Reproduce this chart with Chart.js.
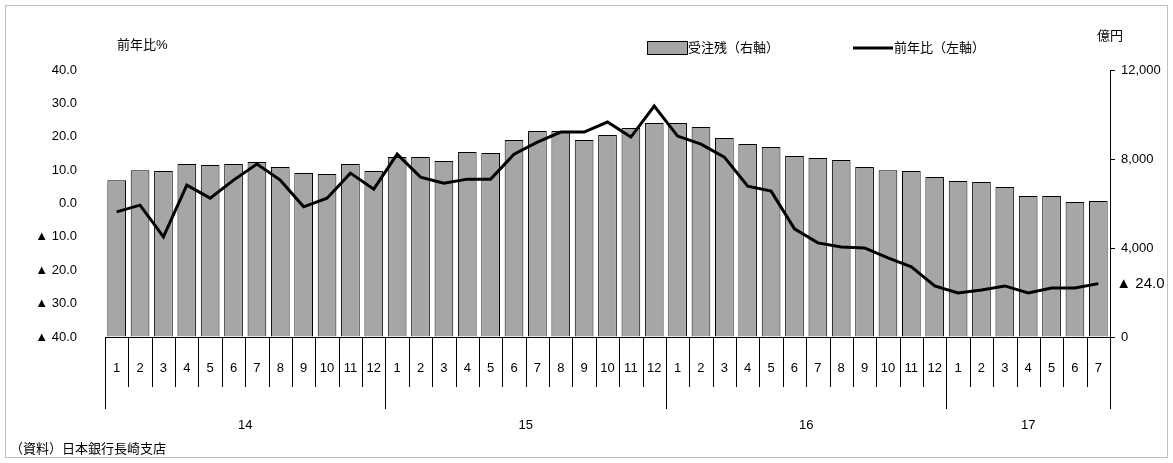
<!DOCTYPE html>
<html>
<head>
<meta charset="utf-8">
<script src="https://cdn.jsdelivr.net/npm/chart.js@4"></script>
<style>
  html, body { margin: 0; padding: 0; background: #fff; }
  #wrap { width: 1173px; height: 463px; position: relative; }
</style>
</head>
<body>
<div id="wrap"><canvas id="c" width="1173" height="463"></canvas></div>
<script>
// ===== DATA =====
const years = ["14", "15", "16", "17"];
const monthsPerYear = [12, 12, 12, 7];
const months = [];
monthsPerYear.forEach(n => { for (let m = 1; m <= n; m++) months.push(String(m)); });

// 受注残 (億円, right axis)
const backlog = [
    7050, 7500, 7460, 7780, 7730, 7780, 7870, 7640, 7370, 7330, 7780, 7460,
    8090, 8090, 7910, 8310, 8270, 8850, 9260, 9260, 8850, 9080, 9390, 9620,
    9620, 9440, 8940, 8670, 8540, 8130, 8040, 7960, 7640, 7500, 7460, 7190,
    7010, 6970, 6740, 6340, 6340, 6070, 6110
];
// 前年比 (%, left axis)
const yoy = [
    -2.5, -0.5, -10.0, 5.5, 1.6, 7.0, 11.8, 7.0, -1.0, 1.6, 9.1, 4.3,
    14.8, 7.9, 6.1, 7.3, 7.3, 14.8, 18.4, 21.4, 21.4, 24.4, 19.9, 29.2,
    20.2, 17.8, 13.9, 5.2, 3.7, -7.6, -11.8, -13.0, -13.3, -16.3, -19.0, -24.7,
    -26.8, -25.9, -24.7, -26.8, -25.3, -25.3, -24.0
];

const FONT = "'Liberation Sans', 'Noto Sans CJK JP', sans-serif";
const fmtPct = v => v < 0 ? "▲ " + Math.abs(v).toFixed(1) : v.toFixed(1);

// ===== 追加描画（枠・凡例・年ラベル・注記） =====
const decor = {
    id: "decor",
    beforeDraw(chart) {
        const c = chart.ctx;
        c.save();
        c.fillStyle = "#fff";
        c.fillRect(0, 0, chart.width, chart.height);
        c.strokeStyle = "#bfbfbf";
        c.lineWidth = 1;
        c.strokeRect(5.5, 5.5, chart.width - 11, chart.height - 11);
        c.restore();
    },
    afterDraw(chart) {
        const c = chart.ctx;
        const x = chart.scales.x;
        const area = chart.chartArea;
        const step = x.getPixelForValue(1) - x.getPixelForValue(0);
        c.save();
        c.strokeStyle = "#000";
        c.lineWidth = 1;
        // 月の区切り線
        let idx = 0;
        const bounds = [0];
        monthsPerYear.forEach(n => { idx += n; bounds.push(idx); });
        for (let i = 0; i <= months.length; i++) {
            const px = Math.round(x.getPixelForValue(i) - step / 2) + 0.5;
            const long = bounds.includes(i);
            c.beginPath();
            c.moveTo(px, area.bottom);
            c.lineTo(px, area.bottom + (long ? 72 : 50));
            c.stroke();
        }
        // 年ラベル
        c.fillStyle = "#000";
        c.font = "13px " + FONT;
        c.textAlign = "center";
        c.textBaseline = "middle";
        years.forEach((y, i) => {
            const a = x.getPixelForValue(bounds[i]) - step / 2;
            const b = x.getPixelForValue(bounds[i + 1]) - step / 2;
            c.fillText(y, (a + b) / 2, area.bottom + 88);
        });
        // 軸タイトル
        c.textAlign = "left";
        c.fillText("前年比%", 117, 45);
        c.fillText("億円", 1097, 36);
        // 凡例
        c.fillStyle = "#a6a6a6";
        c.fillRect(647.5, 41.5, 40, 13);
        c.strokeRect(647.5, 41.5, 40, 13);
        c.fillStyle = "#000";
        c.fillText("受注残（右軸）", 688, 48);
        c.lineWidth = 3;
        c.beginPath();
        c.moveTo(853, 48);
        c.lineTo(893, 48);
        c.stroke();
        c.fillText("前年比（左軸）", 894, 48);
        // 最終値ラベル
        const yl = chart.scales.y;
        const last = yoy.length - 1;
        c.font = "15px " + FONT;
        c.fillText(fmtPct(yoy[last]), x.getPixelForValue(last) + 18, yl.getPixelForValue(yoy[last]));
        // 出所
        c.font = "13px " + FONT;
        c.fillText("（資料）日本銀行長崎支店", 10, 449);
        c.restore();
    }
};

new Chart(document.getElementById("c"), {
    data: {
        labels: months,
        datasets: [
            {
                type: "line",
                label: "前年比(左軸)",
                data: yoy,
                yAxisID: "y",
                borderColor: "#000",
                borderWidth: 3,
                pointRadius: 0,
                tension: 0,
                order: 0
            },
            {
                type: "bar",
                label: "受注残(右軸)",
                data: backlog,
                yAxisID: "y2",
                backgroundColor: "#a6a6a6",
                borderColor: "#000",
                borderWidth: 1,
                categoryPercentage: 1,
                barPercentage: 0.8,
                order: 1
            }
        ]
    },
    options: {
        responsive: false,
        animation: false,
        layout: { padding: { top: 70, left: 0, right: 0, bottom: 0 } },
        plugins: { legend: { display: false }, tooltip: { enabled: false } },
        scales: {
            x: {
                grid: { display: false },
                border: { display: true, color: "#000" },
                ticks: { color: "#000", font: { size: 13, family: FONT }, padding: 16, maxRotation: 0, autoSkip: false },
                afterFit: s => { s.height = 126; }
            },
            y: {
                position: "left",
                min: -40, max: 40,
                grid: { display: false },
                border: { display: false },
                ticks: { stepSize: 10, color: "#000", font: { size: 13, family: FONT }, padding: 20, callback: v => fmtPct(v) },
                afterFit: s => { s.width = 105; }
            },
            y2: {
                position: "right",
                min: 0, max: 12000,
                grid: { drawOnChartArea: false, color: "#000", tickLength: 5 },
                border: { display: true, color: "#000" },
                ticks: { stepSize: 4000, color: "#000", font: { size: 13, family: FONT }, padding: 6, callback: v => v.toLocaleString("en-US") },
                afterFit: s => { s.width = 63; }
            }
        }
    },
    plugins: [decor]
});
</script>
</body>
</html>
